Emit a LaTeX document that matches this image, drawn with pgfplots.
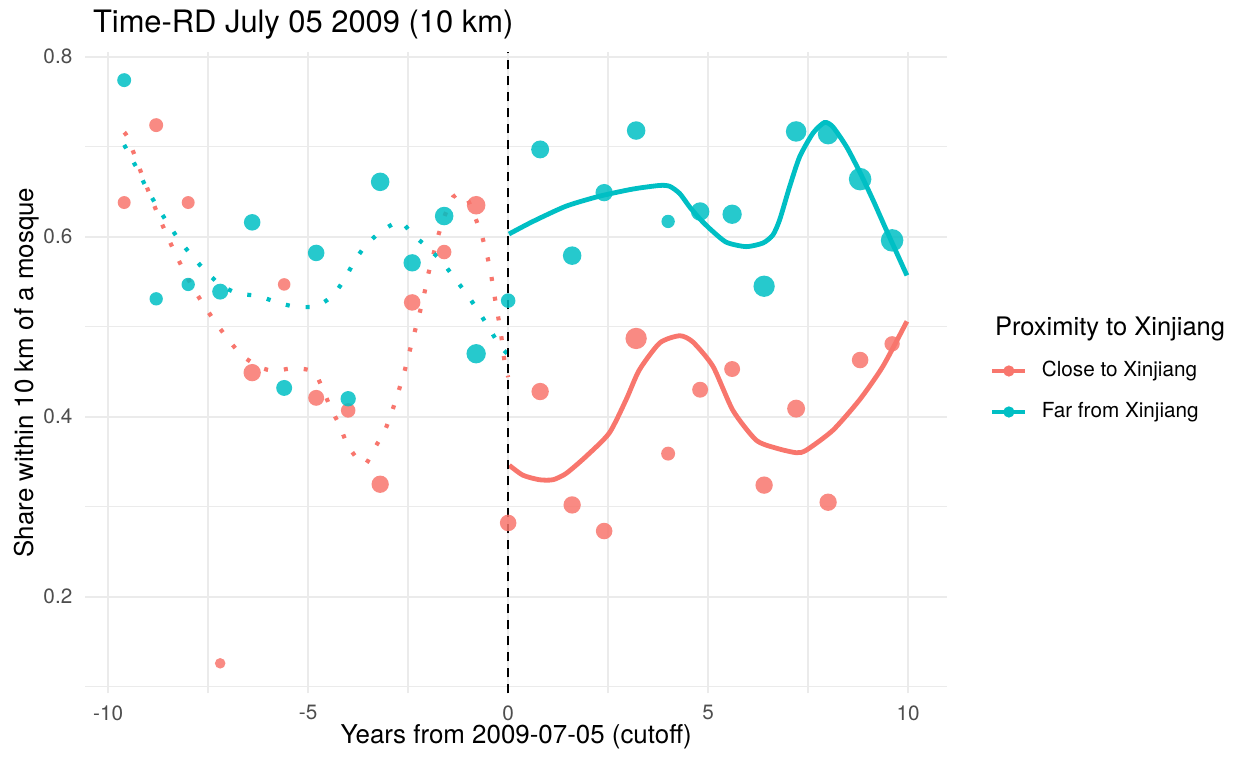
\documentclass[border=0pt]{standalone}
\usepackage{fontspec}
\setmainfont{TeX Gyre Heros}
\usepackage{pgfplots}
\usepackage{pgfplotstable}
\pgfplotsset{compat=1.18}
\definecolor{cRed}{HTML}{F8766D}
\definecolor{cTeal}{HTML}{00BFC4}
\definecolor{grid92}{HTML}{EBEBEB}
\definecolor{grey30}{HTML}{4D4D4D}
\pgfplotsset{
  legred/.style={legend image code/.code={\draw[line width=2.4bp, cRed] (0bp,0bp) -- (16.5bp,0bp); \fill[cRed] (8.25bp,0bp) circle (2.6bp);}},
  legteal/.style={legend image code/.code={\draw[line width=2.4bp, cTeal] (0bp,0bp) -- (16.5bp,0bp); \fill[cTeal] (8.25bp,0bp) circle (2.6bp);}},
}

% points: x, share, marker radius (px)
\pgfplotstableread{
x y r
-9.6 0.638 6.5
-8.8 0.724 7
-8.0 0.638 6.5
-7.2 0.126 5.3
-6.4 0.449 8.7
-5.6 0.547 6.3
-4.8 0.421 8
-4.0 0.407 7.3
-3.2 0.325 8.7
-2.4 0.527 8.3
-1.6 0.583 7.3
-0.8 0.635 9.3
0.0 0.282 8.3
0.8 0.428 8.7
1.6 0.302 8.7
2.4 0.273 8.3
3.2 0.487 10.7
4.0 0.359 7
4.8 0.430 8
5.6 0.453 8
6.4 0.324 8.7
7.2 0.409 9
8.0 0.305 8.7
8.8 0.463 8.3
9.6 0.481 7.7
}\closepts

\pgfplotstableread{
x y r
-9.6 0.774 7
-8.8 0.531 6.7
-8.0 0.547 6.7
-7.2 0.539 8
-6.4 0.616 8.3
-5.6 0.432 8
-4.8 0.582 8.3
-4.0 0.420 7.7
-3.2 0.661 9.3
-2.4 0.571 8.7
-1.6 0.623 9.3
-0.8 0.470 9.7
0.0 0.529 7.3
0.8 0.697 9
1.6 0.579 9.3
2.4 0.649 8.7
3.2 0.718 9.3
4.0 0.617 6.7
4.8 0.628 9.3
5.6 0.625 9.7
6.4 0.545 10.7
7.2 0.717 10.3
8.0 0.714 10.3
8.8 0.664 11.3
9.6 0.596 11.3
}\farpts

% smooth fits, before cutoff (dotted)
\pgfplotstableread{
x y
-9.60 0.716
-9.50 0.709
-9.14 0.667
-8.76 0.625
-8.35 0.584
-7.89 0.544
-7.32 0.505
-6.70 0.470
-6.20 0.455
-5.85 0.451
-5.35 0.454
-4.86 0.450
-4.64 0.431
-4.44 0.410
-4.21 0.390
-4.02 0.369
-3.73 0.351
-3.55 0.348
-3.34 0.365
-3.09 0.384
-2.91 0.405
-2.75 0.427
-2.60 0.449
-2.48 0.470
-2.35 0.492
-2.22 0.514
-2.10 0.536
-2.00 0.558
-1.87 0.580
-1.75 0.601
-1.59 0.623
-1.38 0.644
-1.20 0.648
-1.02 0.642
-0.82 0.621
-0.65 0.600
-0.52 0.578
-0.42 0.556
-0.34 0.534
-0.25 0.511
-0.17 0.489
-0.11 0.467
0.00 0.444
}\closepre

\pgfplotstableread{
x y
-9.60 0.702
-9.50 0.694
-9.26 0.674
-9.03 0.653
-8.78 0.634
-8.51 0.615
-8.22 0.596
-7.91 0.579
-7.57 0.562
-7.18 0.546
-6.75 0.537
-6.24 0.534
-5.77 0.527
-5.29 0.522
-4.78 0.523
-4.38 0.535
-4.09 0.553
-3.84 0.573
-3.55 0.591
-3.17 0.606
-2.71 0.617
-2.40 0.603
-2.01 0.588
-1.65 0.572
-1.34 0.554
-1.03 0.536
-0.74 0.517
-0.47 0.498
-0.21 0.479
0.00 0.469
}\farpre

% smooth fits, after cutoff (solid)
\pgfplotstableread{
x y
0.03 0.346
0.37 0.335
0.78 0.330
1.12 0.330
1.45 0.337
1.95 0.356
2.53 0.382
2.95 0.419
3.28 0.452
3.79 0.482
4.29 0.490
4.62 0.483
5.12 0.456
5.62 0.407
6.20 0.374
6.71 0.365
7.21 0.360
7.46 0.363
8.12 0.385
8.79 0.419
9.37 0.456
9.97 0.506
}\closepost

\pgfplotstableread{
x y
0.02 0.603
0.62 0.617
1.45 0.634
2.28 0.645
3.12 0.653
3.79 0.657
4.04 0.656
4.29 0.648
4.54 0.633
4.79 0.620
5.04 0.609
5.45 0.594
5.95 0.589
6.37 0.593
6.62 0.602
6.79 0.619
7.04 0.656
7.29 0.689
7.62 0.715
7.91 0.727
8.12 0.722
8.46 0.700
8.79 0.672
9.12 0.641
9.46 0.607
9.97 0.557
}\farpost

\begin{document}
\begin{tikzpicture}
\useasboundingbox (-42.5bp,-33.85bp) rectangle (576.5bp,346.65bp);
\begin{axis}[
  scale only axis,
  width=431.15bp, height=320.8bp,
  xmin=-10.58, xmax=10.98, ymin=0.0927, ymax=0.8056,
  axis line style={draw=none},
  major tick length=0pt, minor tick length=0pt,
  xtick={-10,-5,0,5,10}, minor xtick={-7.5,-2.5,2.5,7.5},
  ytick={0.2,0.4,0.6,0.8}, minor ytick={0.1,0.3,0.5,0.7},
  grid=both,
  major grid style={grid92, line width=1bp},
  minor grid style={grid92, line width=0.7bp},
  /pgf/number format/assume math mode=true,
  yticklabel style={/pgf/number format/fixed, /pgf/number format/fixed zerofill, /pgf/number format/precision=1,
    inner sep=0pt, anchor=east, xshift=-6.15bp, text=grey30, font=\fontsize{10.4}{12}\selectfont},
  xticklabel style={inner sep=0pt, anchor=north, yshift=-5.85bp, text=grey30, font=\fontsize{10.4}{12}\selectfont},
  legend style={at={(axis description cs:1,0.4704)}, anchor=west, xshift=21.35bp,
    draw=none, fill=none, inner sep=0pt, outer sep=0pt, row sep=10.8bp, column sep=7bp,
    font=\fontsize{10.4}{12}\selectfont,
    nodes={inner sep=0pt, text height=7.5bp, text depth=2.2bp}},
  legend cell align=left,
]
\addplot[scatter, only marks, mark=*, forget plot,
  scatter/use mapped color={draw=cRed, fill=cRed, draw opacity=0, fill opacity=0.85},
  visualization depends on={\thisrow{r}*0.5 \as \rad},
  scatter/@pre marker code/.append style={/tikz/mark size=\rad}]
  table[x=x, y=y] {\closepts};
\addplot[scatter, only marks, mark=*, forget plot,
  scatter/use mapped color={draw=cTeal, fill=cTeal, draw opacity=0, fill opacity=0.85},
  visualization depends on={\thisrow{r}*0.5 \as \rad},
  scatter/@pre marker code/.append style={/tikz/mark size=\rad}]
  table[x=x, y=y] {\farpts};
\addplot[cRed, line width=2.1bp, dash pattern=on 2bp off 8bp, smooth, tension=0.4, forget plot] table[x=x, y=y] {\closepre};
\addplot[cTeal, line width=2.1bp, dash pattern=on 2bp off 8bp, smooth, tension=0.4, forget plot] table[x=x, y=y] {\farpre};
\addplot[cRed, line width=2.4bp, smooth, tension=0.4, forget plot] table[x=x, y=y] {\closepost};
\addplot[cTeal, line width=2.4bp, smooth, tension=0.4, forget plot] table[x=x, y=y] {\farpost};
\addplot[black, line width=1.3bp, dash pattern=on 4.5bp off 3.5bp, forget plot] coordinates {(0,0.0927) (0,0.8056)};
\addlegendimage{legred}
\addlegendentry{Close to Xinjiang}
\addlegendimage{legteal}
\addlegendentry{Far from Xinjiang}
\end{axis}
\node[anchor=base west, font=\fontsize{15.5}{18}\selectfont] at (0.5bp,330.5bp) {Time-RD July 05 2009 (10 km)};
\node[anchor=base, font=\fontsize{13}{15}\selectfont] at (215.6bp,-25bp) {Years from 2009-07-05 (cutoff)};
\node[anchor=base, rotate=90, font=\fontsize{13}{15}\selectfont] at (-25.85bp,160.4bp) {Share within 10 km of a mosque};
\node[anchor=base west, font=\fontsize{12.8}{15}\selectfont] at (451.5bp,178.65bp) {Proximity to Xinjiang};
\end{tikzpicture}
\end{document}
